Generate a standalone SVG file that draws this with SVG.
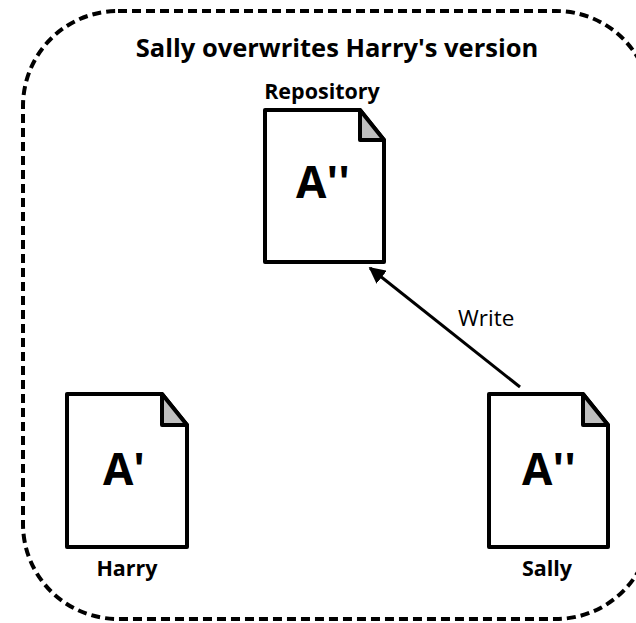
<svg xmlns="http://www.w3.org/2000/svg" width="636" height="623" viewBox="0 0 636 623">
<style>
.frame{fill:none;stroke:#000;stroke-width:4;stroke-dasharray:9 5}
.doc{fill:#fff;stroke:#000;stroke-width:4;stroke-linejoin:round}
.fold{fill:#bfbfbf;stroke:#000;stroke-width:4;stroke-linejoin:round}
.big{font-family:"Open Sans","Liberation Sans",sans-serif;font-weight:bold;font-size:44px;text-anchor:middle;fill:#000}
.lbl{font-family:"Open Sans","Liberation Sans",sans-serif;font-weight:bold;font-size:21.5px;text-anchor:middle;fill:#000}
.title{font-family:"Open Sans","Liberation Sans",sans-serif;font-weight:bold;font-size:25.5px;text-anchor:middle;fill:#000}
.edge{font-family:"Open Sans","Liberation Sans",sans-serif;font-size:22.5px;fill:#000}
</style>
<defs>
<marker id="arr" viewBox="0 0 10 10" refX="9" refY="5" markerWidth="5.5" markerHeight="5.5" orient="auto" markerUnits="strokeWidth">
<path d="M0,0 L10,5 L0,10 z" fill="#000"/>
</marker>
</defs>
<rect class="frame" x="23" y="11" width="628" height="608" rx="95" ry="95"/>
<text class="title" x="337" y="57">Sally overwrites Harry's version</text>
<g id="repository">
<path class="doc" d="M265,110 H360 L384,140 V262 H265 Z"/>
<path class="fold" d="M360,110 V140 H384 Z"/>
<text class="big" x="323" y="198">A''</text>
<text class="lbl" x="322" y="99">Repository</text>
</g>
<g id="harry">
<path class="doc" d="M67,394 H162 L187,425 V547 H67 Z"/>
<path class="fold" d="M162,394 V425 H187 Z"/>
<text class="big" x="124" y="485">A'</text>
<text class="lbl" x="127" y="576">Harry</text>
</g>
<g id="sally">
<path class="doc" d="M489,394 H583 L608,425 V547 H489 Z"/>
<path class="fold" d="M583,394 V425 H608 Z"/>
<text class="big" x="549" y="485">A''</text>
<text class="lbl" x="547" y="576">Sally</text>
</g>
<g id="connectors">
<line x1="520" y1="387" x2="370" y2="268" stroke="#000" stroke-width="3" marker-end="url(#arr)"/>
<text class="edge" x="458" y="326">Write</text>
</g>
</svg>
